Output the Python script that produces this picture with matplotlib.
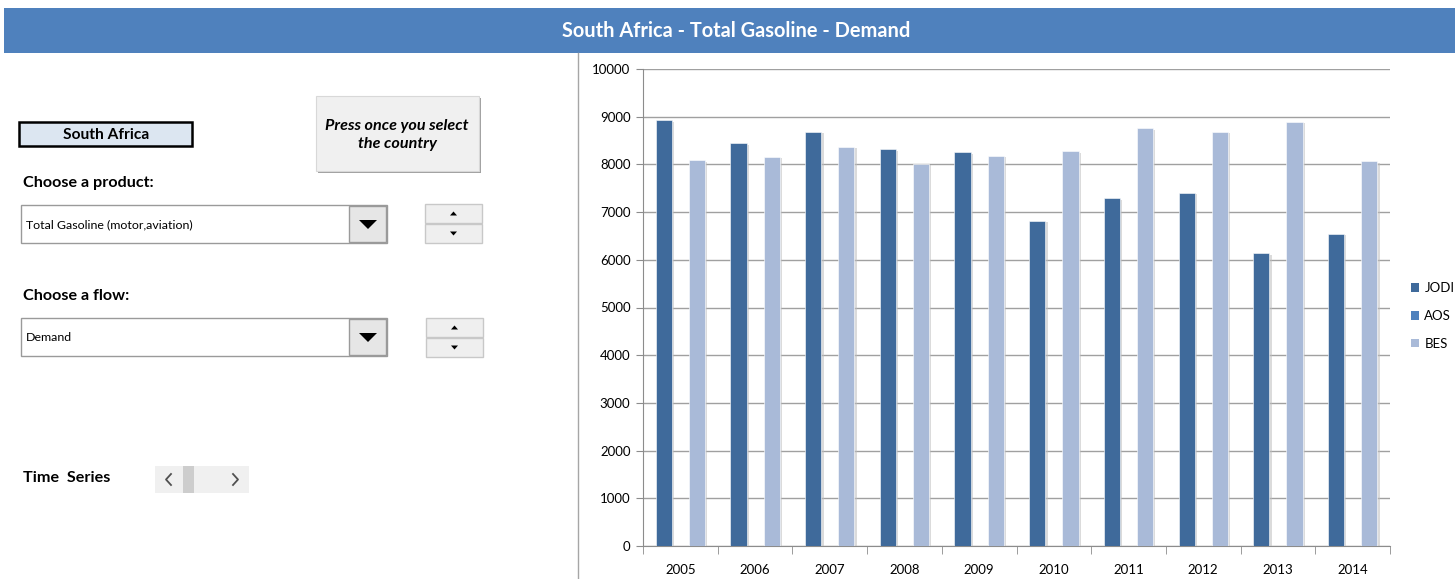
import numpy as np
import matplotlib
matplotlib.use("Agg")
import matplotlib.pyplot as plt
from matplotlib.patches import Rectangle, Polygon
import matplotlib.patheffects as pe

plt.rcParams['font.family'] = ['Lato', 'DejaVu Sans']

# ---- data ----
years = ['2005', '2006', '2007', '2008', '2009', '2010', '2011', '2012', '2013', '2014']
jodi = [8925, 8450, 8685, 8320, 8250, 6820, 7290, 7405, 6135, 6550]
aos = [np.nan] * 10
bes = [8090, 8160, 8370, 8015, 8180, 8280, 8755, 8685, 8895, 8065]
series_names = ['JODI', 'AOS', 'BES']
series_colors = ['#3F6A9B', '#4F81BD', '#A9BAD8']
yticks = [0, 1000, 2000, 3000, 4000, 5000, 6000, 7000, 8000, 9000, 10000]
title = 'South Africa - Total Gasoline - Demand'

W, H = 1455, 579
fig = plt.figure(figsize=(W / 100, H / 100), dpi=100)

# overlay in pixel coordinates
ov = fig.add_axes([0, 0, 1, 1], zorder=0)
ov.set_xlim(0, W)
ov.set_ylim(H, 0)
ov.axis('off')

# title bar
ov.add_patch(Rectangle((4, 8), W - 4, 45, facecolor='#4F81BD', edgecolor='none'))
ov.text(736, 31, title, color='white', fontsize=14.4, fontweight='bold', ha='center', va='center')

# divider line of chart area
ov.plot([578, 578], [53, 579], color='#A6A6A6', lw=1)

# country box
ov.add_patch(Rectangle((19, 122), 173, 24, facecolor='#DCE6F1', edgecolor='black', lw=1.8))
ov.text(106, 135, 'South Africa', fontsize=11.2, fontweight='bold', ha='center', va='center')

# button
ov.add_patch(Rectangle((318, 98), 163, 75, facecolor='#A0A0A0', edgecolor='none'))
ov.add_patch(Rectangle((316, 96), 163, 75, facecolor='#F0F0F0', edgecolor='#D8D8D8', lw=0.8))
ov.text(397, 135, 'Press once you select\nthe country', fontsize=11.6, fontweight='bold',
        fontstyle='italic', ha='center', va='center', linespacing=1.35)

def combo(y, label, text):
    ov.text(23, y - 21.5, label, fontsize=11.6, fontweight='bold', ha='left', va='center')
    ov.add_patch(Rectangle((21, y), 366, 38, facecolor='white', edgecolor='#9A9A9A', lw=1))
    ov.add_patch(Rectangle((349, y + 1), 37, 36, facecolor='#E6E6E6', edgecolor='#9A9A9A', lw=1))
    ov.add_patch(Polygon([[359, y + 15], [377, y + 15], [368, y + 24]], closed=True,
                         facecolor='black', edgecolor='none'))
    ov.text(26, y + 19.5, text, fontsize=8.9, ha='left', va='center')

def spin(x, y):
    ov.add_patch(Rectangle((x, y), 57, 19, facecolor='#EFEFEF', edgecolor='#C8C8C8', lw=1))
    ov.add_patch(Rectangle((x, y + 20), 57, 19, facecolor='#EFEFEF', edgecolor='#C8C8C8', lw=1))
    cx = x + 28.5
    ov.add_patch(Polygon([[cx - 3.5, y + 11.5], [cx + 3.5, y + 11.5], [cx, y + 7.5]], closed=True,
                         facecolor='black', edgecolor='none'))
    ov.add_patch(Polygon([[cx - 3.5, y + 27.5], [cx + 3.5, y + 27.5], [cx, y + 31.5]], closed=True,
                         facecolor='black', edgecolor='none'))

combo(205, 'Choose a product:', 'Total Gasoline (motor,aviation)')
spin(425, 204)
combo(318, 'Choose a flow:', 'Demand')
spin(426, 318)

# time series scrollbar
ov.text(23, 478, 'Time  Series', fontsize=11.6, fontweight='bold', ha='left', va='center')
ov.add_patch(Rectangle((155, 466), 94, 27, facecolor='#F0F0F0', edgecolor='none'))
ov.add_patch(Rectangle((183, 466), 11, 27, facecolor='#CDCDCD', edgecolor='none'))
ov.plot([171, 166, 171], [474, 479.5, 485], color='#505050', lw=1.3)
ov.plot([233, 238, 233], [474, 479.5, 485], color='#505050', lw=1.3)

# ---- chart ----
ax = fig.add_axes([643 / W, 1 - 546 / H, 747 / W, 477 / H], zorder=1)
ax.patch.set_alpha(0)
x = np.arange(len(years))
w = 0.222
offsets = [-w, 0, w]
shadow = [pe.SimplePatchShadow(offset=(1.6, -1.2), shadow_rgbFace='#BEBEBE', alpha=0.55), pe.Normal()]
for vals, off, name, col in zip([jodi, aos, bes], offsets, series_names, series_colors):
    ax.bar(x + off, vals, width=w * 0.98, color=col, label=name, edgecolor='white', lw=0.4,
           path_effects=shadow, zorder=3)

ax.set_ylim(0, 10000)
ax.set_xlim(-0.5, len(years) - 0.5)
ax.set_yticks(yticks)
ax.set_yticklabels([str(t) for t in yticks], fontsize=9.5)
ax.yaxis.grid(True, color='#A0A0A0', lw=1)
ax.set_axisbelow(True)
ax.set_xticks(x)
ax.set_xticklabels(years, fontsize=9.5)
ax.set_xticks(np.arange(-0.5, len(years), 1), minor=True)
ax.tick_params(axis='x', which='major', length=0, pad=13)
ax.tick_params(axis='x', which='minor', length=6, color='#8C8C8C', direction='out')
ax.tick_params(axis='y', length=5, color='#8C8C8C', pad=4)
for s in ['top', 'right']:
    ax.spines[s].set_visible(False)
for s in ['left', 'bottom']:
    ax.spines[s].set_color('#8C8C8C')

handles = [Rectangle((0, 0), 1, 1, facecolor=c, edgecolor='none') for c in series_colors]
leg = ax.legend(handles, series_names, loc='center left', bbox_to_anchor=(1.0, 0.482), frameon=False,
                fontsize=9.5, handlelength=0.6, handleheight=0.6, handletextpad=0.4, labelspacing=1.2,
                borderaxespad=1.2)

fig.savefig('out.png', dpi=100)
